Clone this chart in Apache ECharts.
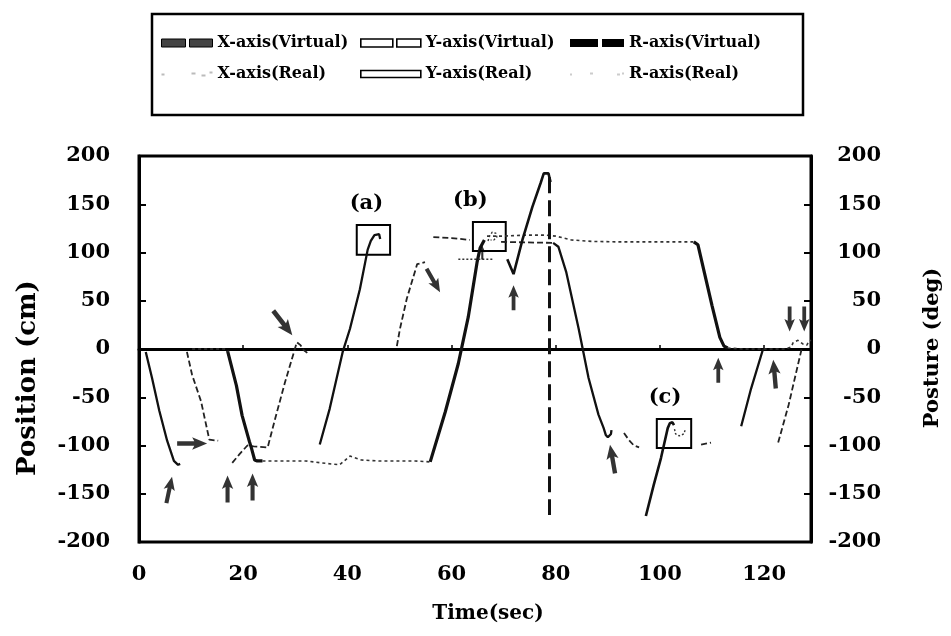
<!DOCTYPE html>
<html><head><meta charset="utf-8">
<script src="https://cdn.jsdelivr.net/npm/echarts@6/dist/echarts.min.js"></script>
<style>html,body{margin:0;padding:0;background:#fff}#c{width:951px;height:636px}</style>
</head><body><div id="c"></div>
<script>
// ---- data (time in sec, value in cm / deg) ----
const xVirtualSegs = [
  [[1.3,-3],[2.5,-30],[3.9,-64],[5.4,-95],[6.7,-116],[7.5,-120],[7.9,-119]],
  [[34.7,-99],[36.6,-62],[39.1,-3],[40.5,21],[42.4,62],[43.9,103],[44.5,112],[45.2,118],[46.1,119],[46.3,114]],
  [[79.5,110],[80.5,106],[82,80],[84.4,21],[86.3,-30],[88.2,-68],[89.2,-82],[89.6,-89],[90,-91.5],[90.6,-88],[90.7,-84]],
  [[115.6,-80],[117.5,-41],[119.8,0]]
];
const xRealSegs = [
  [[9.2,-3],[10.2,-27],[11.9,-54],[13.5,-94],[15.2,-95]],
  [[17.9,-118],[19.3,-109],[20.8,-100],[22,-101],[24.7,-102],[26,-75],[28,-35],[30.3,7],[31,4],[31.6,-1],[32.3,-4]],
  [[49.5,3],[50.1,21],[51.4,52],[53.4,88],[54.9,90]],
  [[56.5,116],[60,115],[63.5,113]],
  [[69.5,111],[74,110.5],[79.5,110]],
  [[93.1,-87],[94,-94],[95,-100],[96,-102]],
  [[107.9,-99],[109.8,-97]],
  [[122.7,-97],[124.7,-58],[127.2,0]]
];
const yVirtualSegs = [
  [[17,-2],[18.7,-38],[19.8,-69],[21.2,-96],[21.6,-103],[22.2,-115],[22.7,-116],[23.7,-116]],
  [[55.9,-117],[58.8,-65],[61.3,-15],[63.2,33],[64.9,90],[65.5,105],[66.3,113]],
  [[106.5,111],[107.3,108],[108.5,80],[110,45],[111.5,12],[112.3,3],[113,1]]
];
const yRealSegs = [
  [[10.2,0],[12,0],[14,0],[16.4,0],[17.2,-3]],
  [[23.7,-116],[28,-116],[32,-116],[35,-118],[38.5,-120],[40.5,-111],[42.7,-115],[46,-116],[50,-116],[53,-116],[55.9,-117]],
  [[66.8,117],[70,117],[74,118],[78,118],[80,117],[83,113],[87,111.5],[92,111],[98,111],[104,111],[106.5,111]],
  [[113,1],[116,0],[120,0],[124,0],[125.2,2],[125.6,7],[126.5,9],[127.5,5],[128.2,4],[128.6,8],[129,9]]
];
const rVirtualSegs = [
  [[70.7,93],[71.9,77.6],[73.6,113],[75.5,147],[77.1,172],[77.7,182],[78.6,182],[79,173]],
  [[97.3,-173],[98.8,-141],[100.2,-113],[101.5,-82],[101.9,-77],[102.4,-76],[102.7,-79]]
];
const rWrapLine = [[78.8,178],[78.8,-172]];
const rRealSegs = [
  [[61.3,93],[67.9,93]],
  [[67.0,112],[67.3,117],[67.8,121],[68.5,120],[68.7,116],[68.1,113],[67.5,113]],
  [[102.8,-83],[103.0,-88],[103.7,-90],[104.6,-88],[104.9,-83]]
];
// arrows: [time, value, rotation(deg), length]
const arrowMarks = [
  [5.8,-146,-12,27],[17,-145,0,27],[21.8,-143,0,27],[10.2,-98,-90,30],
  [27.6,27,-142,31],[56.5,71,-150,27],[71.9,53,0,25],[90.9,-114,10,29],
  [111.2,-22,0,25],[122,-26,5,29],[124.9,31,180,25],[127.7,31,180,25],[65.9,100,0,14]
];
// zoom boxes: [label, t1, v1, t2, v2]
const zoomBoxes = [
  ['(a)',41.8,128.5,48.2,97.6],
  ['(b)',64.1,131.6,70.4,101.6],
  ['(c)',99.4,-72.5,106,-102.6]
];
const boxLabelShift = [-7,-19,-9];
const xTickStep = 20, yTickStep = 50;

// ---- styles ----
const FONT = 'DejaVu Serif';
const st = {
  'X-axis(Virtual)': {color:'#111', width:2.3, type:'solid'},
  'X-axis(Real)': {color:'#222', width:1.8, type:[6,3]},
  'Y-axis(Virtual)': {color:'#111', width:3.2, type:'solid'},
  'Y-axis(Real)': {color:'#333', width:1.6, type:[3,3]},
  'R-axis(Virtual)': {color:'#111', width:2.6, type:'solid'},
  'R-axis(Real)': {color:'#333', width:1.4, type:[2,2]}
};
function segSeries(name, segs){
  return segs.map(d => ({
    type:'line', name, data:d, symbol:'none', showSymbol:false, animation:false,
    lineStyle:{color:st[name].color, width:st[name].width, type:st[name].type},
    itemStyle:{color:st[name].color}, z:3
  }));
}
const series = [].concat(
  segSeries('X-axis(Virtual)', xVirtualSegs),
  segSeries('X-axis(Real)', xRealSegs),
  segSeries('Y-axis(Virtual)', yVirtualSegs),
  segSeries('Y-axis(Real)', yRealSegs),
  segSeries('R-axis(Virtual)', rVirtualSegs),
  segSeries('R-axis(Real)', rRealSegs)
);
series.push({
  type:'line', name:'R-axis(Virtual)', data:rWrapLine, symbol:'none', animation:false,
  lineStyle:{color:'#111', width:3, type:[16,7]}, z:3
});
// zoom boxes
series.push({
  type:'line', name:'boxes', data:[], symbol:'none', animation:false,
  markArea:{
    silent:true,
    itemStyle:{color:'rgba(0,0,0,0)', borderColor:'#000', borderWidth:2},
    label:{show:true, position:'top', distance:10, color:'#000', fontFamily:FONT, fontWeight:'bold', fontSize:21},
    data: zoomBoxes.map((b,i) => [{name:b[0], coord:[b[1],b[2]], label:{offset:[boxLabelShift[i],0]}},{coord:[b[3],b[4]]}])
  }
});
// arrows
series.push({
  type:'scatter', name:'arrows', animation:false, z:5, silent:true,
  symbol:'path://M5,0L10,14L6.8,12L6.8,28L3.2,28L3.2,12L0,14Z',
  itemStyle:{color:'#000'},
  data: arrowMarks.map(a => ({value:[a[0],a[1]], symbolRotate:a[2], symbolSize:[a[3]*0.42,a[3]]}))
});

const legendBase = {
  orient:'vertical', top:35, itemGap:15, itemHeight:8, padding:0, selectedMode:false,
  textStyle:{fontFamily:FONT, fontWeight:'bold', fontSize:16, color:'#000'}
};
const option = {
  backgroundColor:'#fff',
  animation:false,
  grid:{left:139, right:140, top:156, bottom:94, show:true, borderColor:'#000', borderWidth:3},
  legend:[
    Object.assign({}, legendBase, {left:161, itemWidth:51, data:[
      {name:'X-axis(Virtual)', icon:'path://M0,0H24V8H0Z M28,0H51V8H28Z', itemStyle:{color:'#444', borderColor:'#000', borderWidth:1}},
      {name:'X-axis(Real)', icon:'path://M0,3H3V5H0Z M30,2H34V4H30Z M40,4H44V6H40Z M48,1H51V3H48Z', itemStyle:{color:'#bbb'}}
    ]}),
    Object.assign({}, legendBase, {left:360, itemWidth:60, data:[
      {name:'Y-axis(Virtual)', icon:'path://M0,0H32V8H0Z M36,0H60V8H36Z', itemStyle:{color:'#fff', borderColor:'#000', borderWidth:1.6}},
      {name:'Y-axis(Real)', icon:'path://M0,0H60V7H0Z', itemStyle:{color:'#fff', borderColor:'#000', borderWidth:1.6}}
    ]}),
    Object.assign({}, legendBase, {left:570, itemWidth:54, data:[
      {name:'R-axis(Virtual)', icon:'path://M0,0H28V8H0Z M32,0H54V8H32Z', itemStyle:{color:'#000'}},
      {name:'R-axis(Real)', icon:'path://M0,3H2V5H0Z M20,2H23V4H20Z M47,3H50V5H47Z M52,2H54V4H52Z', itemStyle:{color:'#ccc'}}
    ]})
  ],
  xAxis:{
    type:'value', min:0, max:129, interval:xTickStep,
    axisLine:{lineStyle:{color:'#000', width:3}},
    axisTick:{inside:true, length:4, lineStyle:{color:'#000', width:1.5}},
    splitLine:{show:false},
    axisLabel:{margin:22, showMaxLabel:false, color:'#000', fontFamily:FONT, fontWeight:'bold', fontSize:21}
  },
  yAxis:[
    {type:'value', min:-200, max:200, interval:yTickStep,
     axisLine:{show:true, lineStyle:{color:'#000', width:3}},
     axisTick:{show:true, inside:true, length:7, lineStyle:{color:'#000', width:2}},
     splitLine:{show:false},
     axisLabel:{margin:29, color:'#000', fontFamily:FONT, fontWeight:'bold', fontSize:21}},
    {type:'value', min:-200, max:200, interval:yTickStep, position:'right',
     axisLine:{show:true, lineStyle:{color:'#000', width:3}},
     axisTick:{show:true, inside:true, length:7, lineStyle:{color:'#000', width:2}},
     splitLine:{show:false},
     axisLabel:{margin:70, align:'right', color:'#000', fontFamily:FONT, fontWeight:'bold', fontSize:21}}
  ],
  graphic:[
    {type:'rect', shape:{x:152, y:14, width:651, height:101}, style:{fill:'none', stroke:'#000', lineWidth:2.5}, z:0},
    {type:'text', x:28, y:378, rotation:Math.PI/2, style:{text:'Position (cm)', fontFamily:FONT, fontWeight:'bold', fontSize:26, fill:'#000', align:'center', verticalAlign:'middle'}},
    {type:'text', x:933, y:348, rotation:Math.PI/2, style:{text:'Posture (deg)', fontFamily:FONT, fontWeight:'bold', fontSize:21, fill:'#000', align:'center', verticalAlign:'middle'}},
    {type:'text', x:488, y:614, style:{text:'Time(sec)', fontFamily:FONT, fontWeight:'bold', fontSize:20, fill:'#000', align:'center', verticalAlign:'middle'}}
  ],
  series
};
const chart = echarts.init(document.getElementById('c'), null, {renderer:'canvas'});
chart.setOption(option);
</script>
</body></html>
